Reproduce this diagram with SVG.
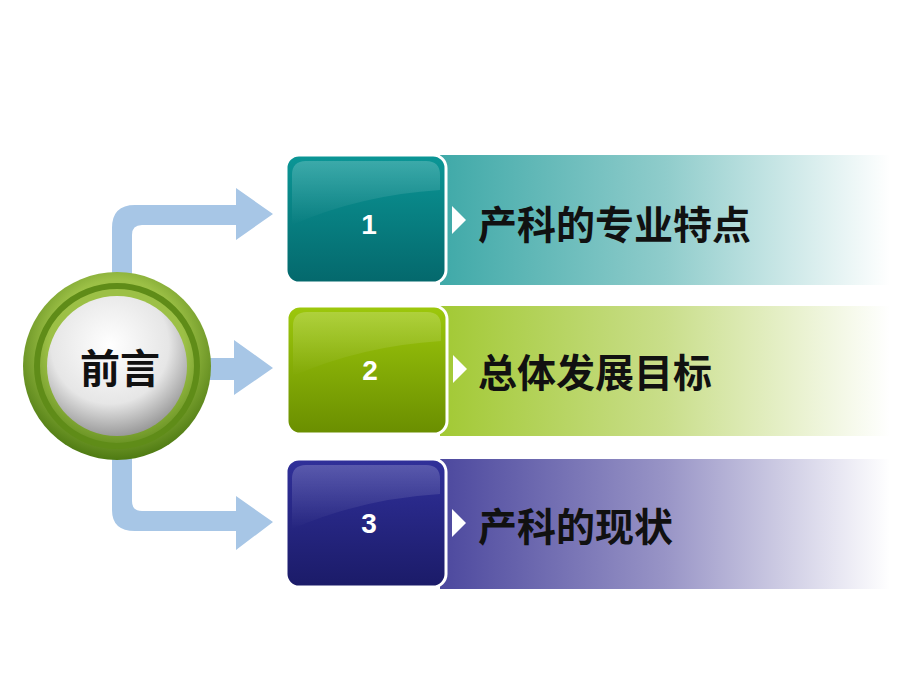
<svg xmlns="http://www.w3.org/2000/svg" width="920" height="690" viewBox="0 0 920 690">
<defs>
<linearGradient id="b1" x1="0" x2="1"><stop offset="0" stop-color="#3fa9a8"/><stop offset="0.5" stop-color="#8fcccb"/><stop offset="1" stop-color="#fff"/></linearGradient>
<linearGradient id="b2" x1="0" x2="1"><stop offset="0" stop-color="#a2c934"/><stop offset="0.5" stop-color="#c9de8a"/><stop offset="1" stop-color="#fff"/></linearGradient>
<linearGradient id="b3" x1="0" x2="1"><stop offset="0" stop-color="#4c489e"/><stop offset="0.5" stop-color="#9894c6"/><stop offset="1" stop-color="#fff"/></linearGradient>
<linearGradient id="g1" x1="0" y1="0" x2="0" y2="1"><stop offset="0" stop-color="#0b9696"/><stop offset="1" stop-color="#04686c"/></linearGradient>
<linearGradient id="g2" x1="0" y1="0" x2="0" y2="1"><stop offset="0" stop-color="#9dc80c"/><stop offset="1" stop-color="#6a8e00"/></linearGradient>
<linearGradient id="g3" x1="0" y1="0" x2="0" y2="1"><stop offset="0" stop-color="#30309a"/><stop offset="1" stop-color="#1b1b68"/></linearGradient>
<linearGradient id="gl" x1="0" y1="0" x2="0" y2="1"><stop offset="0" stop-color="#fff" stop-opacity="0.2"/><stop offset="1" stop-color="#fff" stop-opacity="0"/></linearGradient>
<radialGradient id="ring" cx="0.5" cy="0.4" r="0.6"><stop offset="0.6" stop-color="#9cc046"/><stop offset="1" stop-color="#4e7a12"/></radialGradient>
<radialGradient id="ball" cx="0.45" cy="0.35" r="0.7"><stop offset="0" stop-color="#ffffff"/><stop offset="0.6" stop-color="#e6e6e6"/><stop offset="1" stop-color="#8a8a8a"/></radialGradient>
</defs>
<style>
.arr{fill:#a7c6e6}
.num{font-family:"Liberation Sans",Arial,sans-serif;font-weight:bold;font-size:28px;fill:#fff;text-anchor:middle}
.lab{font-family:"Noto Sans CJK SC",sans-serif;font-weight:bold;font-size:39px;fill:#111}
.box{stroke:#fff;stroke-width:3}
</style>
<g id="connectors">
<path class="arr" d="M112 275 V228 Q112 205 135 205 H236 V188 L273 214 L236 240 V225 H142 Q132 225 132 235 V275 Z"/>
<path class="arr" d="M205 358 H234 V340 L273 368 L234 395 V380 H205 Z"/>
<path class="arr" d="M112 455 V510 Q112 531 135 531 H236 V550 L273 522 L236 496 V511 H142 Q132 511 132 501 V455 Z"/>
</g>
<g id="node1">
<rect x="440" y="155" width="450" height="130" fill="url(#b1)"/>
<rect class="box" x="286" y="155" width="160" height="128" rx="13" fill="url(#g1)"/>
<path d="M292 175 Q292 161 306 161 H426 Q440 161 440 175 V190 Q360 195 292 225 Z" fill="url(#gl)"/>
<polygon points="452,206 466,220 452,234" fill="#fff"/>
<text class="num" x="369" y="234">1</text>
<text class="lab" x="478" y="239">产科的专业特点</text>
</g>
<g id="node2">
<rect x="440" y="306" width="450" height="130" fill="url(#b2)"/>
<rect class="box" x="287" y="306" width="160" height="128" rx="13" fill="url(#g2)"/>
<path d="M293 326 Q293 312 307 312 H427 Q441 312 441 326 V341 Q361 346 293 376 Z" fill="url(#gl)"/>
<polygon points="453,355 467,369 453,383" fill="#fff"/>
<text class="num" x="370" y="380">2</text>
<text class="lab" x="478" y="387">总体发展目标</text>
</g>
<g id="node3">
<rect x="440" y="459" width="450" height="130" fill="url(#b3)"/>
<rect class="box" x="286" y="459" width="160" height="128" rx="13" fill="url(#g3)"/>
<path d="M292 479 Q292 465 306 465 H426 Q440 465 440 479 V494 Q360 499 292 529 Z" fill="url(#gl)"/>
<polygon points="452,509 466,523 452,537" fill="#fff"/>
<text class="num" x="369" y="533">3</text>
<text class="lab" x="478" y="541">产科的现状</text>
</g>
<g id="center">
<circle cx="117" cy="366" r="94" fill="url(#ring)"/>
<circle cx="117" cy="366" r="80" fill="none" stroke="#5f8c18" stroke-width="6"/>
<circle cx="117" cy="366" r="70" fill="url(#ball)"/>
<text x="120" y="383" font-family="Noto Sans CJK SC,sans-serif" font-weight="bold" font-size="40" fill="#111" text-anchor="middle">前言</text>
</g>
</svg>
